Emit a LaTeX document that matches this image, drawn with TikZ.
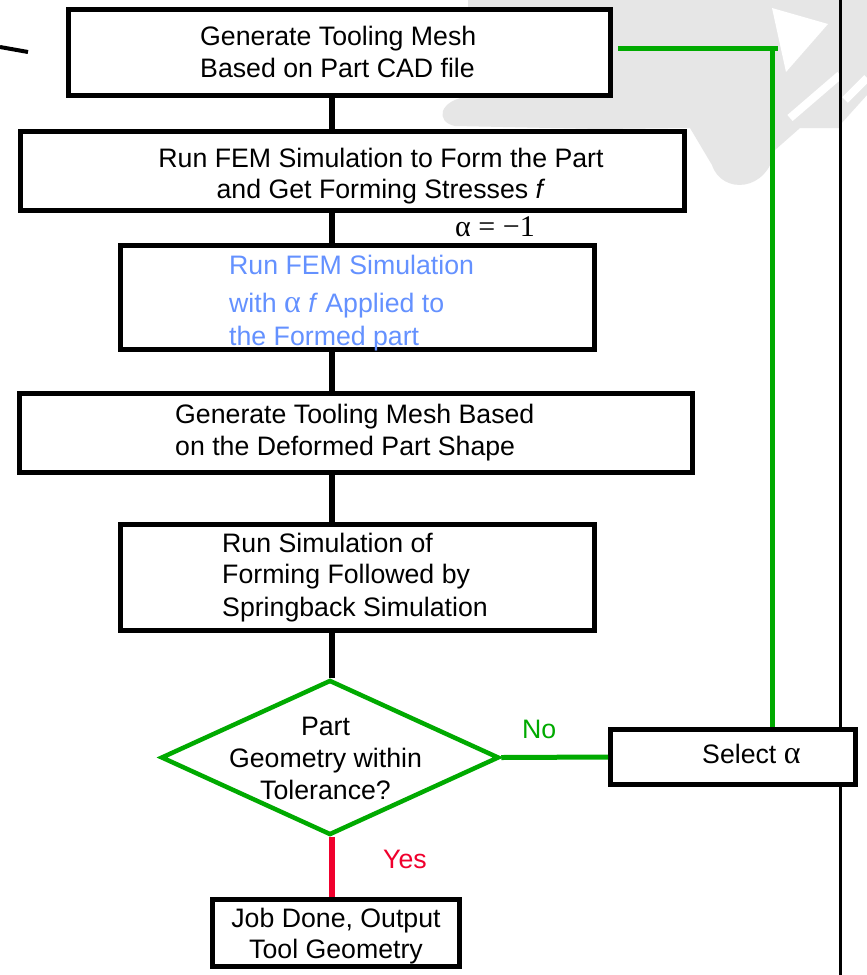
\documentclass[tikz,border=0pt]{standalone}
\usepackage{fontspec}
\setmainfont{Liberation Sans}
\newfontfamily\lserif{Liberation Serif}
\usetikzlibrary{shapes.geometric}
\definecolor{fgreen}{RGB}{0,170,0}
\definecolor{fred}{RGB}{240,0,45}
\definecolor{fblue}{RGB}{100,145,255}
\definecolor{wmgray}{RGB}{230,230,230}
\newcommand\galpha{{\fontsize{32}{32}\lserif α}}
\begin{document}
\begin{tikzpicture}[x=1pt,y=-1pt,
  box/.style={draw=black, line width=5pt, fill=white, inner sep=0pt},
  txt/.style={inner sep=0pt, font=\fontsize{26.7}{32}\selectfont},
  conn/.style={line width=5.5pt, black},
  gconn/.style={line width=5pt, fgreen},
  rconn/.style={line width=5.5pt, fred}]
\useasboundingbox (0,0) rectangle (867,975);
\fill[white] (0,0) rectangle (867,975);
% watermark
\fill[wmgray] (468,0) -- (840,0) -- (840,128) -- (800,128) -- (775,150)
  .. controls (768,192) and (722,195) .. (712,165) -- (690,128) -- (600,129)
  -- (455,126) .. controls (435,122) and (438,100) .. (470,96) -- cycle;
\fill[white] (772,8) -- (828,24) -- (786,72) -- cycle;
\draw[white, line width=8pt] (790,118) -- (840,75);
\fill[wmgray] (840,0) -- (867,0) -- (867,95) -- (840,125) -- cycle;
\draw[white, line width=8pt] (845,100) -- (867,78);
% free lines
\coordinate (rl1) at (840,0);
\coordinate (rl2) at (840,975);
\draw[line width=3pt] (rl1) -- (rl2);
\coordinate (sl1) at (0,47);
\coordinate (sl2) at (28,52);
\draw[line width=4pt] (sl1) -- (sl2);
% boxes
\node[box, minimum width=542pt, minimum height=86pt] (b1) at (339.5,52) {};
\node[box, minimum width=664pt, minimum height=79pt] (b2) at (352.5,171) {};
\node[box, minimum width=474pt, minimum height=104pt] (b3) at (357.5,297.5) {};
\node[box, minimum width=673pt, minimum height=79pt] (b4) at (356,433) {};
\node[box, minimum width=474pt, minimum height=106pt] (b5) at (357.5,577.5) {};
\node[draw=fgreen, line width=4.5pt, fill=white, diamond, inner sep=0pt,
  minimum width=338pt, minimum height=155pt] (dia) at (330,757.5) {};
\node[box, minimum width=245pt, minimum height=55pt] (sel) at (733,757) {};
\node[box, minimum width=247pt, minimum height=67pt] (job) at (336,933) {};
% texts
\node[txt, anchor=base west] (t1a) at (200,45) {Generate Tooling Mesh};
\node[txt, anchor=base west] (t1b) at (200,77) {Based on Part CAD file};
\node[txt, anchor=base] (t2a) at (381,167) {Run FEM Simulation to Form the Part};
\node[txt, anchor=base] (t2b) at (381,198) {and Get Forming Stresses \textit{f}};
\node[inner sep=0pt, anchor=base west, font=\fontsize{30}{30}\lserif] (alab) at (455,236) {α = −1};
\node[txt, anchor=base west, text=fblue] (t3a) at (229,274) {Run FEM Simulation};
\node[txt, anchor=base west, text=fblue] (t3b) at (229,312) {with \galpha\ \textit{f} Applied to};
\node[txt, anchor=base west, text=fblue] (t3c) at (229,345) {the Formed part};
\node[txt, anchor=base west] (t4a) at (175,423) {Generate Tooling Mesh Based};
\node[txt, anchor=base west] (t4b) at (175,455) {on the Deformed Part Shape};
\node[txt, anchor=base west] (t5a) at (222,552) {Run Simulation of};
\node[txt, anchor=base west] (t5b) at (222,583) {Forming Followed by};
\node[txt, anchor=base west] (t5c) at (222,616) {Springback Simulation};
\node[txt, anchor=base] (tda) at (325.5,735) {Part};
\node[txt, anchor=base] (tdb) at (325.5,767) {Geometry within};
\node[txt, anchor=base] (tdc) at (325.5,799) {Tolerance?};
\node[txt, anchor=base west] (tsel) at (702,763) {Select \galpha};
\node[txt, anchor=base] (tja) at (336,927) {Job Done, Output};
\node[txt, anchor=base] (tjb) at (336,958) {Tool Geometry};
\node[txt, anchor=base west, text=fgreen] (lno) at (522,738) {No};
\node[txt, anchor=base west, text=fred] (lyes) at (383,868) {Yes};
% connectors
\coordinate (spine) at (332,0);
\draw[conn] (b1.south -| spine) -- (b2.north -| spine);
\draw[conn] (b2.south -| spine) -- (b3.north -| spine);
\draw[conn] (b3.south -| spine) -- (b4.north -| spine);
\draw[conn] (b4.south -| spine) -- (b5.north -| spine);
\draw[conn] (b5.south -| spine) -- (dia.north -| spine);
\draw[rconn] (dia.south -| spine) -- (job.north -| spine);
\draw[gconn] (dia.east) -- (sel.west);
\coordinate (gx) at (772,48);
\coordinate (gs) at (618,48);
\coordinate (ge) at (778,48);
\draw[gconn] (sel.north -| gx) -- (gx);
\draw[gconn] (gs) -- (ge);
\end{tikzpicture}
\end{document}
